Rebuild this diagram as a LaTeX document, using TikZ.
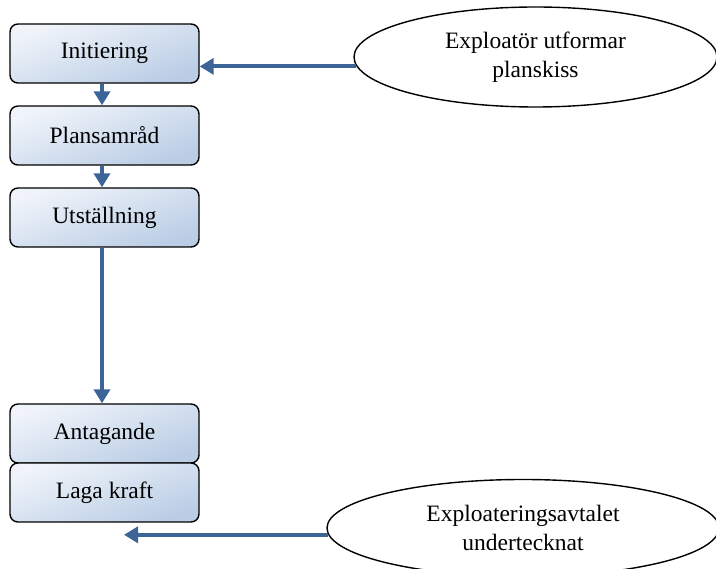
\documentclass[tikz,border=0pt]{standalone}
\usepackage{fontspec}
\setmainfont{Liberation Serif}
\usetikzlibrary{shapes.geometric,arrows.meta}
\definecolor{arrowblue}{HTML}{3C6497}
\definecolor{boxlight}{HTML}{F0F4FA}
\definecolor{boxdark}{HTML}{BACDE5}
\tikzset{
  stepbox/.style={draw=black, line width=1.4pt, rounded corners=8pt,
    top color=boxlight, bottom color=boxdark, shading angle=20,
    minimum width=189pt, minimum height=59pt, inner sep=0pt,
    font=\fontsize{23.5}{28}\selectfont},
  oval/.style={draw=black, line width=1.4pt, ellipse, inner sep=0pt,
    align=center, font=\fontsize{23.5}{29.5}\selectfont},
  arr/.style={draw=arrowblue, line width=3.8pt,
    -{Triangle[length=14pt,width=16pt]}}
}
\begin{document}
\begin{tikzpicture}[x=1pt,y=-1pt]
\useasboundingbox (0,0) rectangle (716,569);
\clip (0,0) rectangle (716,569);
\node[stepbox] (init) at (104.5,53.5) {Initiering};
\node[stepbox] (plan) at (104.5,135.5) {Plansamråd};
\node[stepbox] (utst) at (104.5,217.5) {Utställning};
\node[stepbox] (anta) at (104.5,433.5) {Antagande};
\node[stepbox] (laga) at (104.5,492.5) {Laga kraft};
\node[oval, minimum width=363pt, minimum height=100pt] (top) at (535.5,57) {Exploatör utformar\\planskiss};
\node[oval, minimum width=392pt, minimum height=97pt] (bot) at (523,528) {Exploateringsavtalet\\undertecknat};
\coordinate (botend) at (124,533);
\draw[arr] ([xshift=-2.5pt]init.south) -- ([xshift=-2.5pt]plan.north);
\draw[arr] ([xshift=-2.5pt]plan.south) -- ([xshift=-2.5pt]utst.north);
\draw[arr] ([xshift=-2.5pt]utst.south) -- ([xshift=-2.5pt]anta.north);
\draw[arr] (top.183) -- (top.183 -| init.east);
\draw[arr] (bot.182) -- (bot.182 -| botend);
\end{tikzpicture}
\end{document}
